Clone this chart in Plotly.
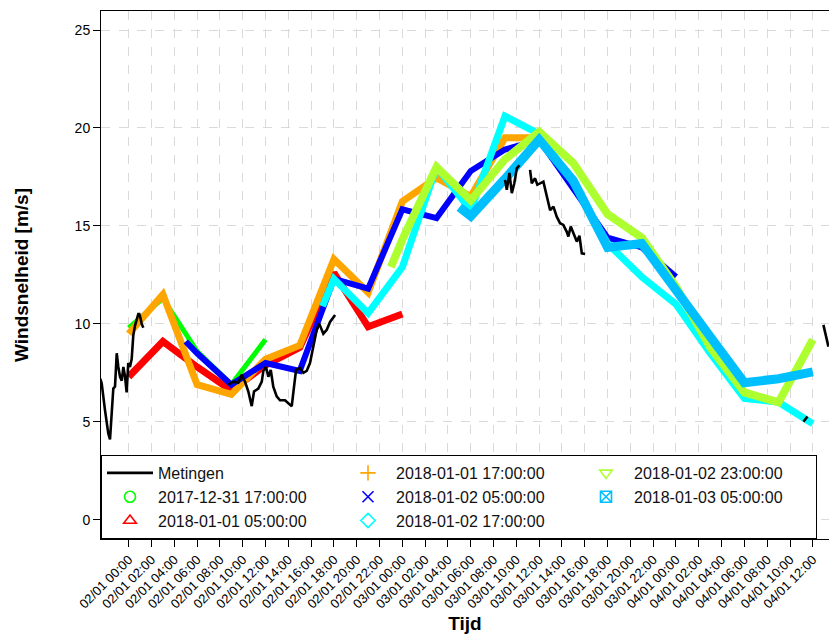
import pandas as pd
import plotly.graph_objects as go

BASE = pd.Timestamp("2018-01-02 00:00")

# Metingen (measurements): hours since 2018-01-02 00:00, wind speed [m/s]; None = gap
meting_hours = [-2.5, -2.37, -2.08, -1.79, -1.64, -1.49, -1.35, -1.20, -1.05, -0.91, -0.76, -0.61, -0.47,
                -0.32, -0.18, -0.04, 0.11, 0.26, 0.40, 0.55, 0.70, 0.84, 0.93, 0.99, 1.14, 1.28,
                None,
                8.74, 9.18, 9.61, 9.91, 10.20, 10.49, 10.79, 10.99, 11.37, 11.67, 11.81, 12.04, 12.25,
                12.46, 12.68, 12.98, 13.27, 13.71, 14.0, 14.30, 14.50, 14.68, 15.03, 15.32, 15.61,
                15.90, 16.19, 16.49, 16.72, 17.07, 17.37, 17.66, 18.10,
                None,
                33.01, 33.16, 33.39, 33.60, 33.82, 34.04, 34.26,
                None,
                35.20, 35.35, 35.64, 35.84, 36.37, 36.67, 36.96, 37.25, 37.54, 37.83, 38.12, 38.42,
                38.56, 38.77, 39.0, 39.30, 39.53, 39.74, 40.03,
                None,
                59.18, 59.53,
                None,
                60.93, 61.14, 61.37]
meting_speed = [7.2, 6.97, 5.6, 4.4, 4.1, 5.3, 6.7, 6.8, 8.5, 7.8, 7.3, 7.1, 7.8,
                7.3, 6.5, 8.0, 7.8, 8.2, 9.4, 9.9, 10.2, 10.5, 10.5, 10.4, 10.0, 9.8,
                None,
                6.9, 7.05, 7.0, 7.4, 7.05, 6.55, 5.8, 6.55, 6.7, 7.05, 7.6, 7.8, 7.3,
                7.65, 6.8, 6.3, 6.1, 6.1, 5.95, 5.8, 6.8, 7.65, 7.75, 7.5, 7.6,
                8.0, 8.85, 9.7, 10.0, 9.5, 9.7, 10.1, 10.45,
                None,
                17.35, 16.84, 17.7, 16.67, 17.18, 17.94, 18.1,
                None,
                17.86, 17.18, 17.43, 17.1, 17.26, 16.5, 15.8, 15.99, 15.47, 15.14, 15.05, 14.7,
                14.46, 14.97, 14.63, 14.2, 14.5, 13.6, 13.57,
                None,
                5.0, 5.27,
                None,
                9.95, 9.44, 8.84]

# Forecasts (hours since 2018-01-02 00:00, wind speed [m/s])
f1_hours = [0, 3, 6, 9, 12]
f1_speed = [9.8, 11.3, 8.6, 6.9, 9.2]

f2_hours = [0, 3, 6, 9, 12, 15, 18, 21, 24]
f2_speed = [7.3, 9.1, 7.8, 6.6, 7.9, 8.8, 12.6, 9.85, 10.5]

f3_hours = [0, 3, 6, 9, 12, 15, 18, 21, 24, 27, 30, 33, 36]
f3_speed = [9.5, 11.5, 6.9, 6.4, 8.2, 8.9, 13.3, 11.6, 16.25, 17.45, 16.5, 19.5, 19.5]

f4_hours = [5, 6, 9, 12, 15, 18, 21, 24, 27, 30, 33, 36, 39, 42, 45, 48]
f4_speed = [9.1, 8.5, 6.9, 8.0, 7.6, 12.3, 11.8, 15.85, 15.4, 17.8, 18.9, 19.4, 16.9, 14.4, 13.9, 12.4]

f5_hours = [17, 18, 21, 24, 27, 30, 33, 36, 39, 42, 45, 48, 51, 54, 57, 60]
f5_speed = [10.9, 12.3, 10.55, 12.9, 18.0, 15.8, 20.6, 19.7, 17.2, 14.1, 12.4, 11.0, 8.5, 6.2, 6.0, 4.9]

f6_hours = [23, 24, 27, 30, 33, 36, 39, 42, 45, 48, 51, 54, 57, 60]
f6_speed = [12.9, 14.3, 18.0, 16.3, 18.4, 19.8, 18.2, 15.6, 14.4, 11.9, 8.8, 6.5, 6.0, 9.2]

f7_hours = [29, 30, 33, 36, 39, 42, 45, 48, 51, 54, 57, 60]
f7_speed = [15.95, 15.5, 17.4, 19.4, 17.3, 13.9, 14.1, 11.8, 9.35, 7.0, 7.2, 7.55]

forecast_labels = ["2017-12-31 17:00:00", "2018-01-01 05:00:00", "2018-01-01 17:00:00",
                   "2018-01-02 05:00:00", "2018-01-02 17:00:00", "2018-01-02 23:00:00",
                   "2018-01-03 05:00:00"]
forecast_colors = ["#00FF00", "#FF0000", "#FFA500", "#0000FF", "#00FFFF", "#ADFF2F", "#00BFFF"]
forecast_symbols = ["circle-open", "triangle-up-open", "cross-thin-open", "x-thin-open",
                    "diamond-open", "triangle-down-open", "square-x-open"]
forecast_widths = [5, 7, 7, 6, 7, 8, 9]
legend_ranks = [4, 7, 2, 5, 8, 3, 6]

# x axis: range and tick positions (hours since 2018-01-02 00:00)
x_start_hours = -2.43
x_end_hours = 61.42
tick_hours = list(range(0, 61, 2))
y_ticks = [0, 5, 10, 15, 20, 25]


def to_time(hours):
    return [None if h is None else BASE + pd.Timedelta(hours=h) for h in hours]


fig = go.Figure()

series = [(f1_hours, f1_speed), (f2_hours, f2_speed), (f3_hours, f3_speed), (f4_hours, f4_speed),
          (f5_hours, f5_speed), (f6_hours, f6_speed), (f7_hours, f7_speed)]

for (hrs, spd), lab, col, sym, w, rk in zip(series, forecast_labels, forecast_colors,
                                            forecast_symbols, forecast_widths, legend_ranks):
    fig.add_trace(go.Scatter(x=to_time(hrs), y=spd, mode="lines",
                             line=dict(color=col, width=w), showlegend=False, hoverinfo="skip"))
    fig.add_trace(go.Scatter(x=[None], y=[None], mode="markers", name=lab, legendrank=rk,
                             marker=dict(symbol=sym, color=col, size=11,
                                         line=dict(color=col, width=1.6))))

fig.add_trace(go.Scatter(x=to_time(meting_hours), y=meting_speed, mode="lines", name="Metingen",
                         legendrank=1, connectgaps=False,
                         line=dict(color="black", width=2.6)))

FONT = "Liberation Sans, Arial, sans-serif"

tick_times = to_time(tick_hours)

fig.update_layout(
    width=829, height=639,
    margin=dict(l=101, r=0, t=11, b=100),
    paper_bgcolor="white", plot_bgcolor="white",
    font=dict(family=FONT, color="black", size=13),
    legend=dict(orientation="h", x=0, y=0, xanchor="left", yanchor="bottom",
                bgcolor="white", bordercolor="black", borderwidth=1,
                itemwidth=46, entrywidth=177, entrywidthmode="pixels",
                font=dict(family=FONT, size=16, color="#111111")),
    xaxis=dict(
        range=[BASE + pd.Timedelta(hours=x_start_hours), BASE + pd.Timedelta(hours=x_end_hours)],
        tickmode="array", tickvals=tick_times,
        ticktext=[t.strftime("%d/%m %H:%M") for t in tick_times],
        tickangle=-45, ticks="outside", ticklen=7, tickcolor="black",
        tickfont=dict(size=13),
        showline=True, linecolor="black", linewidth=1, mirror=True,
        showgrid=True, gridcolor="#DADADA", griddash="dash", gridwidth=1,
        zeroline=False,
        title=dict(text="<b>Tijd</b>", font=dict(size=19), standoff=6),
    ),
    yaxis=dict(
        range=[-0.98, 25.97], tickmode="array", tickvals=y_ticks,
        ticks="outside", ticklen=7, tickcolor="black", tickfont=dict(size=14),
        showline=True, linecolor="black", linewidth=1, mirror=True,
        showgrid=True, gridcolor="#DADADA", griddash="dash", gridwidth=1,
        zeroline=False,
        title=dict(text="<b>Windsnelheid [m/s]</b>", font=dict(size=19), standoff=40),
    ),
)

fig.write_html("out.html")
